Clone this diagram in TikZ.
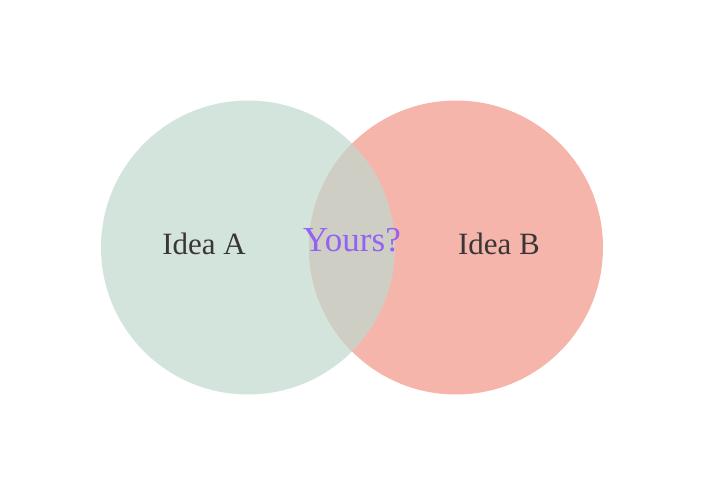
\documentclass[tikz,border=0pt]{standalone}
\usepackage{fontspec}
\setmainfont{Liberation Serif}
\definecolor{cA}{HTML}{D3E4DD}
\definecolor{cB}{HTML}{F5B5AB}
\definecolor{cAB}{HTML}{CFCEC4}
\definecolor{txt}{HTML}{3A3636}
\definecolor{purp}{HTML}{9461F5}
\begin{document}
\begin{tikzpicture}[x=1pt,y=1pt,
  lbl/.style={font=\fontsize{31}{36}\selectfont, text=txt, inner sep=0pt, anchor=base},
  ylbl/.style={font=\fontsize{35}{40}\selectfont, text=purp, inner sep=0pt, anchor=base}]
\useasboundingbox (0,0) rectangle (704,496);
\fill[white] (0,0) rectangle (704,496);
\fill[cA] (248,248.5) circle (147);
\fill[cB] (456,248.5) circle (147);
\begin{scope}
  \clip (248,248.5) circle (147);
  \fill[cAB] (456,248.5) circle (147);
\end{scope}
\node[lbl] (a) at (204,241) {Idea A};
\node[lbl] (b) at (499,241) {Idea B};
\node[ylbl] (y) at (352,244) {Yours?};
\end{tikzpicture}
\end{document}
